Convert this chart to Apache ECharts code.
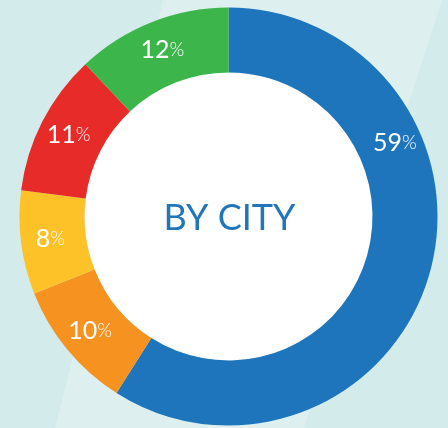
<!DOCTYPE html>
<html>
<head>
<meta charset="utf-8">
<script src="https://cdn.jsdelivr.net/npm/echarts@6/dist/echarts.min.js"></script>
<style>
html,body{margin:0;padding:0;background:#d3ebeb;}
#chart{width:448px;height:428px;}
</style>
</head>
<body>
<div id="chart"></div>
<script>
const segmentNames = ['Segment A', 'Segment B', 'Segment C', 'Segment D', 'Segment E'];
const segmentValues = [59, 10, 8, 11, 12];
const segmentColors = ['#1f75bc', '#f6921f', '#fec229', '#e62b28', '#3cb54b'];
const centerTitle = 'BY CITY';

const chart = echarts.init(document.getElementById('chart'));
const data = segmentNames.map((n, i) => {
  const item = { name: n, value: segmentValues[i], itemStyle: { color: segmentColors[i] } };
  if (i === 0) item.label = { offset: [-6, -124] };
  return item;
});
chart.setOption({
  backgroundColor: '#d3ebeb',
  animation: false,
  graphic: [
    { type: 'polygon', silent: true, z: -10,
      shape: { points: [[163, 0], [442, 0], [304, 428], [55, 428]] },
      style: { fill: '#ddf0ef' } },
    { type: 'text', z: 100, silent: true,
      style: { x: 229.5, y: 218, text: centerTitle, textAlign: 'center', textVerticalAlign: 'middle',
        fill: '#2175bb', font: '400 36px Lato' } }
  ],
  series: [
    { type: 'pie', silent: true, center: [228.5, 216.5], radius: [0, 144],
      label: { show: false }, labelLine: { show: false },
      data: [{ value: 1, itemStyle: { color: '#ffffff' } }], z: 1 },
    {
      type: 'pie',
      center: [228.5, 216.5],
      radius: [144, 209],
      startAngle: 90,
      clockwise: true,
      silent: true,
      z: 2,
      label: {
        show: true,
        position: 'inside',
        formatter: '{v|{c}}{p|%}',
        rich: {
          v: { color: '#ffffff', fontSize: 25, fontFamily: 'Lato', fontWeight: 400 },
          p: { color: '#ffffff', fontSize: 19, fontFamily: 'Lato', fontWeight: 300 }
        }
      },
      labelLine: { show: false },
      itemStyle: { borderWidth: 0 },
      data: data
    }
  ]
});
</script>
</body>
</html>
